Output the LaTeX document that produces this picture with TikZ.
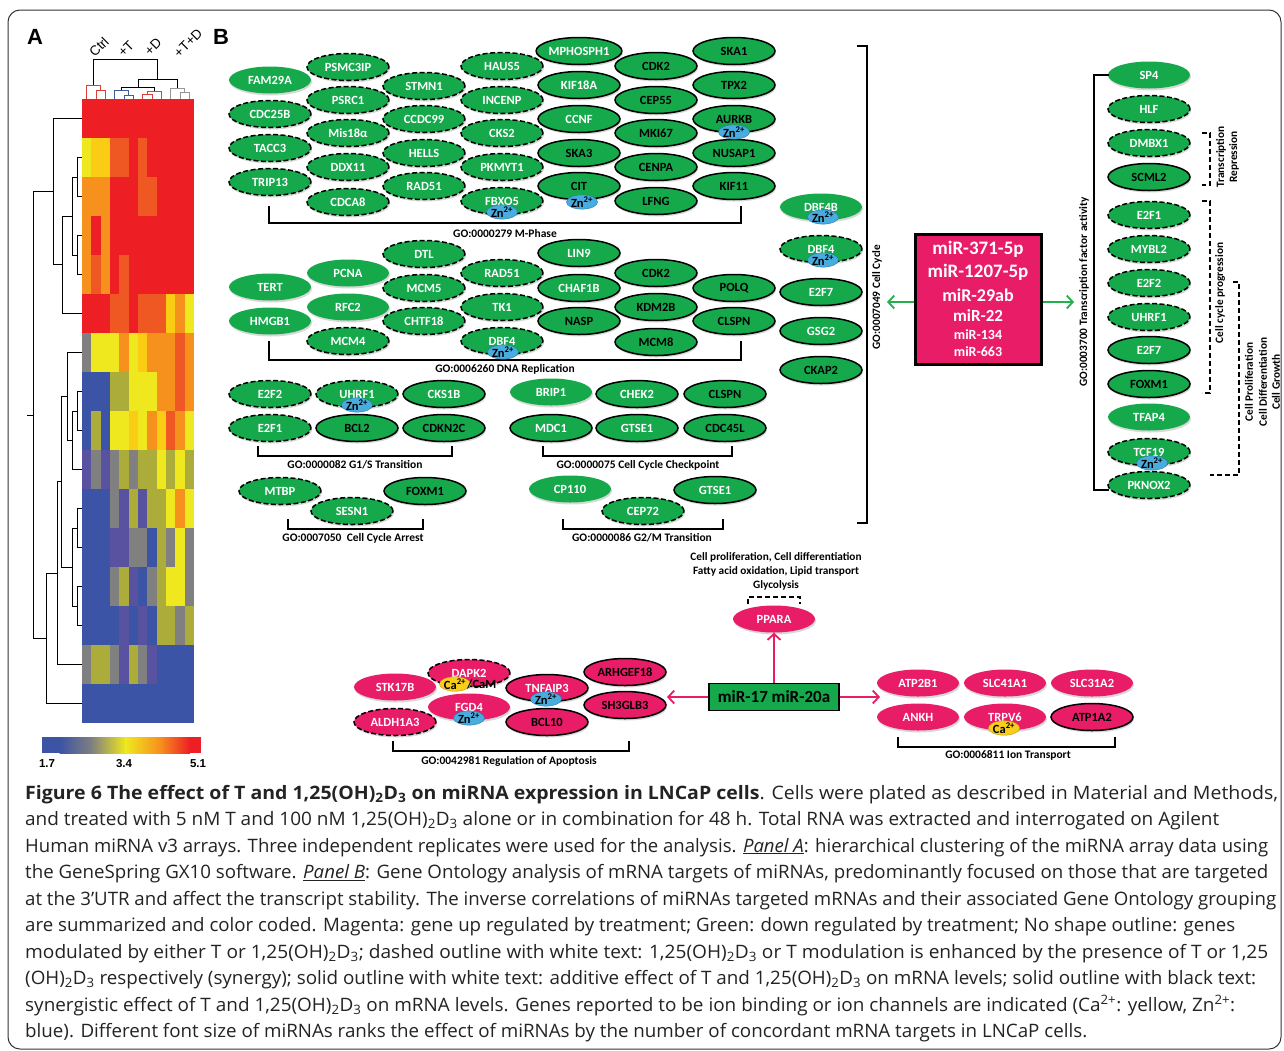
\documentclass[tikz,border=0pt]{standalone}
\usepackage{fontspec}
\setmainfont{Carlito}
\newfontfamily\capf{Open Sans}
\newfontfamily\arialf{Liberation Sans}
\usetikzlibrary{shapes.geometric,arrows.meta,shadows}
\definecolor{ggreen}{RGB}{21,169,76}
\definecolor{gmag}{RGB}{233,28,104}
\definecolor{arrgreen}{RGB}{34,177,76}
\definecolor{znblue}{RGB}{72,172,222}
\definecolor{znedge}{RGB}{40,120,170}
\definecolor{cayel}{RGB}{248,205,30}
\definecolor{caedge}{RGB}{190,150,10}
\definecolor{hmB}{RGB}{59,84,165}
\definecolor{hmS}{RGB}{88,82,160}
\definecolor{hmG}{RGB}{128,128,128}
\definecolor{hmL}{RGB}{172,172,58}
\definecolor{hmY}{RGB}{240,232,30}
\definecolor{hmD}{RGB}{250,205,20}
\definecolor{hmO}{RGB}{246,145,30}
\definecolor{hmP}{RGB}{240,88,35}
\definecolor{hmR}{RGB}{237,30,36}
\definecolor{dred}{RGB}{225,60,55}
\definecolor{dblue}{RGB}{60,90,160}
\definecolor{dgray}{RGB}{150,150,150}
\definecolor{captext}{RGB}{35,35,35}
\newcommand\genefont{\bfseries\fontsize{12.5}{13}\selectfont}
\newcommand\golab{\bfseries\fontsize{11.5}{12}\selectfont}
\newcommand\capfont{\capf\fontsize{18.5}{20}\selectfont}
\newcommand\capline[2]{\resizebox{#1pt}{\height}{#2}}
\begin{document}
\begin{tikzpicture}[x=1pt,y=-1pt,
  gene/.style={ellipse, minimum width=82pt, minimum height=27pt, inner sep=0pt,
    font=\genefont, text=white,
    drop shadow={opacity=0.3, shadow xshift=1pt, shadow yshift=-2pt}},
  G/.style={gene, fill=ggreen},
  M/.style={gene, fill=gmag},
  dsh/.style={draw=black, line width=1.5pt, dash pattern=on 5pt off 2.5pt},
  sld/.style={draw=black, line width=1.5pt},
  bt/.style={text=black},
  zn/.style={ellipse, fill=znblue, draw=znedge, line width=0.4pt, minimum width=26pt,
    minimum height=13pt, inner sep=0pt, text=black, font=\bfseries\fontsize{12.5}{12}\selectfont},
  ca/.style={zn, fill=cayel, draw=caedge},
  brk/.style={draw=black, line width=1.5pt},
  dbrk/.style={draw=black, line width=1.5pt, dash pattern=on 5pt off 3pt},
  golabel/.style={font=\golab, text=black, inner sep=0pt},
  rotlab/.style={font=\bfseries\fontsize{11.3}{12}\selectfont, rotate=90, inner sep=0pt},
  arrG/.style={draw=arrgreen, line width=1.8pt, -{Straight Barb[length=6pt,width=13pt]}},
  arrM/.style={draw=gmag, line width=1.8pt, -{Straight Barb[length=6pt,width=13pt]}},
  caption/.style={anchor=base west, font=\capfont, text=captext, inner sep=0pt},
  dend/.style={draw=black, line width=0.8pt},
  collab/.style={font=\arialf\fontsize{13.5}{14}\selectfont, rotate=45, inner sep=0pt}
]
\useasboundingbox (0,0) rectangle (1284,1050);
\fill[white] (0,0) rectangle (1284,1050);
\draw[line width=1pt, rounded corners=12pt, draw=black!80] (8,10) rectangle (1281,1049);

% ---------------- Panel A ----------------
\node[font=\arialf\bfseries\fontsize{22}{22}\selectfont, inner sep=0pt] (labA) at (35,37) {A};
\node[font=\arialf\bfseries\fontsize{22}{22}\selectfont, inner sep=0pt] (labB) at (221,37) {B};

\foreach \rowc [count=\ri] in {
 {R,R,R,R,R,R,R,R,R,R,R,R},
 {Y,D,D,P,P,R,P,R,R,R,R,R},
 {O,O,O,R,R,R,P,P,R,R,R,R},
 {O,R,O,R,R,R,R,R,R,R,R,R},
 {O,P,O,R,P,R,R,R,R,R,R,R},
 {R,R,R,P,P,R,P,P,P,D,O,Y},
 {G,Y,Y,Y,O,Y,D,O,O,O,P,O},
 {B,B,B,L,L,Y,Y,Y,O,O,P,O},
 {B,L,B,Y,Y,D,Y,O,D,P,O,Y},
 {S,G,S,G,L,G,L,L,Y,L,Y,L},
 {B,B,B,G,S,L,S,L,L,Y,O,Y},
 {B,B,B,S,S,G,G,B,L,G,Y,G},
 {B,B,B,G,L,S,B,G,L,Y,Y,G},
 {B,B,B,B,S,B,S,B,L,L,G,L},
 {G,L,L,G,S,L,G,S,B,B,B,B},
 {B,B,B,B,B,B,B,B,B,B,B,B}}{
  \foreach \cc [count=\ci] in \rowc {
    \fill[fill=hm\cc] ({82+(\ci-1)*9.333},{99+(\ri-1)*39}) rectangle ++(9.45,39.2);
  }
}

% column dendrogram
\draw[draw=dred, line width=0.8pt] (96,99) -- (96,90) -- (105.3,90) -- (105.3,99);
\draw[draw=dred, line width=0.8pt] (86.7,99) -- (86.7,85) -- (100.7,85) -- (100.7,90);
\draw[draw=dblue, line width=0.8pt] (124,99) -- (124,95) -- (133.3,95) -- (133.3,99);
\draw[draw=dblue, line width=0.8pt] (114.7,99) -- (114.7,90) -- (128.7,90) -- (128.7,95);
\draw[draw=dred, line width=0.8pt] (142.7,99) -- (142.7,94) -- (152,94) -- (152,99);
\draw[draw=dred, line width=0.8pt] (147.3,94) -- (147.3,91) -- (161.3,91) -- (161.3,99);
\draw[draw=dgray, line width=0.8pt] (180,99) -- (180,92) -- (189.3,92) -- (189.3,99);
\draw[draw=dgray, line width=0.8pt] (170.7,99) -- (170.7,88) -- (184.7,88) -- (184.7,92);
\draw[dend] (121.7,90) -- (121.7,87) -- (154.3,87) -- (154.3,91);
\draw[dend] (138,87) -- (138,79) -- (177.7,79) -- (177.7,88);
\draw[dend] (93.7,85) -- (93.7,59) -- (157.8,59) -- (157.8,79);

\node[collab] (cCtrl) at (99,47) {Ctrl};
\node[collab] (cT) at (126,49) {+T};
\node[collab] (cD) at (153,47) {+D};
\node[collab] (cTD) at (188,43) {+T+D};

% row dendrogram
\draw[dend] (82,157.5) -- (77,157.5) -- (77,196.5) -- (82,196.5);
\draw[dend] (82,235.5) -- (77,235.5) -- (77,274.5) -- (82,274.5);
\draw[dend] (77,177) -- (72,177) -- (72,255) -- (77,255);
\draw[dend] (72,216) -- (62,216) -- (62,313.5) -- (82,313.5);
\draw[dend] (82,118.5) -- (53,118.5) -- (53,264.75) -- (62,264.75);
\draw[dend] (82,391.5) -- (77,391.5) -- (77,430.5) -- (82,430.5);
\draw[dend] (77,411) -- (72,411) -- (72,469.5) -- (82,469.5);
\draw[dend] (82,352.5) -- (67,352.5) -- (67,440.25) -- (72,440.25);
\draw[dend] (82,508.5) -- (77,508.5) -- (77,547.5) -- (82,547.5);
\draw[dend] (82,586.5) -- (77,586.5) -- (77,625.5) -- (82,625.5);
\draw[dend] (77,528) -- (72,528) -- (72,606) -- (77,606);
\draw[dend] (67,396.4) -- (61,396.4) -- (61,567) -- (72,567);
\draw[dend] (61,481.7) -- (57,481.7) -- (57,664.5) -- (82,664.5);
\draw[dend] (57,573.1) -- (46,573.1) -- (46,703.5) -- (82,703.5);
\draw[dend] (53,191.6) -- (33,191.6) -- (33,638.3) -- (46,638.3);
\draw[dend] (33,415) -- (27,415);

% colour bar
\fill[hmB] (42,737) rectangle (60,753);
\shade[left color=hmB, right color=hmG] (59.5,737) rectangle (92,753);
\shade[left color=hmG, right color=hmY] (91.5,737) rectangle (126,753);
\shade[left color=hmY, right color=hmO] (125.5,737) rectangle (160,753);
\shade[left color=hmO, right color=hmR] (159.5,737) rectangle (190,753);
\fill[hmR] (189.5,737) rectangle (201,753);
\node[font=\arialf\bfseries\fontsize{11.5}{11}\selectfont, inner sep=0pt] (cb1) at (47,764) {1.7};
\node[font=\arialf\bfseries\fontsize{11.5}{11}\selectfont, inner sep=0pt] (cb2) at (124,764) {3.4};
\node[font=\arialf\bfseries\fontsize{11.5}{11}\selectfont, inner sep=0pt] (cb3) at (198,764) {5.1};

% ---------------- M phase ----------------
\node[G] (fam29a) at (270,80) {FAM29A};
\node[G,dsh] (cdc25b) at (270,114) {CDC25B};
\node[G,dsh] (tacc3) at (270,148) {TACC3};
\node[G,dsh] (trip13) at (270,182) {TRIP13};
\node[G,dsh] (psmc3ip) at (348,67) {PSMC3IP};
\node[G,dsh] (psrc1) at (348,100) {PSRC1};
\node[G,dsh] (mis18a) at (348,133) {Mis18α};
\node[G,dsh] (ddx11) at (348,167) {DDX11};
\node[G,dsh] (cdca8) at (348,202) {CDCA8};
\node[G,dsh] (stmn1) at (424,86) {STMN1};
\node[G,dsh] (ccdc99) at (424,119) {CCDC99};
\node[G,dsh] (hells) at (424,153) {HELLS};
\node[G,dsh] (rad51a) at (424,186) {RAD51};
\node[G,dsh] (haus5) at (502,66) {HAUS5};
\node[G,dsh] (incenp) at (502,100) {INCENP};
\node[G,dsh] (cks2) at (502,133) {CKS2};
\node[G,dsh] (pkmyt1) at (502,167) {PKMYT1};
\node[G,dsh] (fbxo5) at (502,201) {FBXO5};
\node[G,sld] (mphosph1) at (579,51) {MPHOSPH1};
\node[G,sld] (kif18a) at (579,85) {KIF18A};
\node[G,sld] (ccnf) at (579,119) {CCNF};
\node[G,sld,bt] (ska3) at (579,153) {SKA3};
\node[G,sld,bt] (cit) at (579,186) {CIT};
\node[G,sld,bt] (cdk2a) at (656,66) {CDK2};
\node[G,sld,bt] (cep55) at (656,100) {CEP55};
\node[G,sld,bt] (mki67) at (656,133) {MKI67};
\node[G,sld,bt] (cenpa) at (656,167) {CENPA};
\node[G,sld,bt] (lfng) at (656,201) {LFNG};
\node[G,sld,bt] (ska1) at (734,51) {SKA1};
\node[G,sld,bt] (tpx2) at (734,85) {TPX2};
\node[G,sld,bt] (aurkb) at (734,119) {AURKB};
\node[G,sld,bt] (nusap1) at (734,153) {NUSAP1};
\node[G,sld,bt] (kif11) at (734,186) {KIF11};
\draw[brk] (269,206) -- (269,223) -- (741,223) -- (741,206);
\node[golabel] (goM) at (505,234) {GO:0000279 M-Phase};

% ---------------- DNA replication ----------------
\node[G] (tert) at (270,287) {TERT};
\node[G] (hmgb1) at (270,321) {HMGB1};
\node[G] (pcna) at (348,273) {PCNA};
\node[G] (rfc2) at (348,307) {RFC2};
\node[G,dsh] (mcm4) at (348,341) {MCM4};
\node[G,dsh] (dtl) at (424,254) {DTL};
\node[G,dsh] (mcm5) at (424,288) {MCM5};
\node[G,dsh] (chtf18) at (424,321) {CHTF18};
\node[G,dsh] (rad51b) at (502,273) {RAD51};
\node[G,dsh] (tk1) at (502,307) {TK1};
\node[G,dsh] (dbf4a) at (502,341) {DBF4};
\node[G,sld] (lin9) at (579,253) {LIN9};
\node[G,sld] (chaf1b) at (579,288) {CHAF1B};
\node[G,sld,bt] (nasp) at (579,321) {NASP};
\node[G,sld,bt] (cdk2b) at (656,273) {CDK2};
\node[G,sld,bt] (kdm2b) at (656,307) {KDM2B};
\node[G,sld,bt] (mcm8) at (656,342) {MCM8};
\node[G,sld,bt] (polq) at (734,288) {POLQ};
\node[G,sld,bt] (clspna) at (734,321) {CLSPN};
\draw[brk] (269,341) -- (269,360) -- (741,360) -- (741,341);
\node[golabel] (goD) at (505,369) {GO:0006260 DNA Replication};

% ---------------- extra cell-cycle column ----------------
\node[G] (dbf4b) at (821,207) {DBF4B};
\node[G,dsh] (dbf4c) at (821,249) {DBF4};
\node[G,sld] (e2f7a) at (821,292) {E2F7};
\node[G,sld] (gsg2) at (821,331) {GSG2};
\node[G,sld,bt] (ckap2) at (821,370) {CKAP2};

% ---------------- G1/S ----------------
\node[G,dsh] (e2f2a) at (270,394) {E2F2};
\node[G,dsh] (uhrf1a) at (357,394) {UHRF1};
\node[G,sld] (cks1b) at (444,394) {CKS1B};
\node[G,dsh] (e2f1a) at (270,428) {E2F1};
\node[G,sld,bt] (bcl2) at (357,428) {BCL2};
\node[G,sld,bt] (cdkn2c) at (444,428) {CDKN2C};
\draw[brk] (258,446) -- (258,456) -- (452,456) -- (452,446);
\node[golabel] (goG1) at (355,465) {GO:0000082 G1/S Transition};

\node[G,dsh] (mtbp) at (280,491) {MTBP};
\node[G,sld,bt] (foxm1a) at (425,491) {FOXM1};
\node[G,dsh] (sesn1) at (352,511) {SESN1};
\draw[brk] (288,519) -- (288,529) -- (423,529) -- (423,519);
\node[golabel] (goArr) at (353,538) {GO:0007050\ \ Cell Cycle Arrest};

% ---------------- checkpoint ----------------
\node[G] (brip1) at (551,392) {BRIP1};
\node[G,sld] (chek2) at (637,394) {CHEK2};
\node[G,sld,bt] (clspnb) at (725,394) {CLSPN};
\node[G,sld] (mdc1) at (551,428) {MDC1};
\node[G,sld] (gtse1a) at (637,428) {GTSE1};
\node[G,sld,bt] (cdc45l) at (725,428) {CDC45L};
\draw[brk] (543,446) -- (543,456) -- (732,456) -- (732,446);
\node[golabel] (goChk) at (638,465) {GO:0000075 Cell Cycle Checkpoint};

\node[G] (cp110) at (570,489) {CP110};
\node[G,sld] (gtse1b) at (715,490) {GTSE1};
\node[G,dsh] (cep72) at (643,511) {CEP72};
\draw[brk] (563,519) -- (563,529) -- (723,529) -- (723,519);
\node[golabel] (goG2) at (642,538) {GO:0000086 G2/M Transition};

% big cell cycle bracket
\draw[brk] (857,46) -- (867,46) -- (867,523) -- (857,523);
\node[rotlab] (goCC) at (877,297) {GO:0007049 Cell Cycle};

% ---------------- miRNA box ----------------
\node[draw=black, line width=2.5pt, fill=gmag, minimum width=126pt, minimum height=130pt, inner sep=0pt] (mirbox) at (978.5,299.5) {};
\node[text=white, font=\bfseries\fontsize{19}{19}\selectfont, inner sep=0pt] (m1) at (978,249) {miR-371-5p};
\node[text=white, font=\bfseries\fontsize{19}{19}\selectfont, inner sep=0pt] (m2) at (978,272) {miR-1207-5p};
\node[text=white, font=\bfseries\fontsize{18}{18}\selectfont, inner sep=0pt] (m3) at (978,295) {miR-29ab};
\node[text=white, font=\bfseries\fontsize{17}{17}\selectfont, inner sep=0pt] (m4) at (978,316) {miR-22};
\node[text=white, font=\bfseries\fontsize{14}{14}\selectfont, inner sep=0pt] (m5) at (978,335) {miR-134};
\node[text=white, font=\bfseries\fontsize{14}{14}\selectfont, inner sep=0pt] (m6) at (978,352) {miR-663};
\coordinate (ccend) at (887,302);
\coordinate (tfend) at (1074,302);
\draw[arrG] (mirbox.west |- ccend) -- (ccend);
\draw[arrG] (mirbox.east |- tfend) -- (tfend);

% ---------------- TF column ----------------
\node[G] (sp4) at (1149,75) {SP4};
\node[G,dsh] (hlf) at (1149,109) {HLF};
\node[G,dsh] (dmbx1) at (1149,143) {DMBX1};
\node[G,sld,bt] (scml2) at (1149,177) {SCML2};
\node[G,dsh] (e2f1b) at (1149,215) {E2F1};
\node[G,dsh] (mybl2) at (1149,249) {MYBL2};
\node[G,dsh] (e2f2b) at (1149,283) {E2F2};
\node[G,dsh] (uhrf1b) at (1149,317) {UHRF1};
\node[G,sld] (e2f7b) at (1149,350) {E2F7};
\node[G,sld,bt] (foxm1b) at (1149,384) {FOXM1};
\node[G] (tfap4) at (1149,417) {TFAP4};
\node[G,dsh] (tcf19) at (1149,452) {TCF19};
\node[G,dsh] (pknox2) at (1149,485) {PKNOX2};
\draw[brk] (1109,75) -- (1094,75) -- (1094,490) -- (1109,490);
\node[rotlab] (goTF) at (1084,292) {GO:0003700 Transcription factor activity};

\draw[dbrk] (1202,133) -- (1210,133) -- (1210,185) -- (1202,185);
\node[rotlab] (trT) at (1221,157) {Transcription};
\node[rotlab] (trR) at (1234,157) {Repression};
\draw[dbrk] (1202,201) -- (1210,201) -- (1210,393) -- (1202,393);
\node[rotlab] (ccp) at (1220,293) {Cell cycle progression};
\draw[dbrk] (1233,282) -- (1239,282) -- (1239,475) -- (1210,475);
\node[rotlab] (cpP) at (1249,382) {Cell Proliferation};
\node[rotlab] (cpD) at (1263,382) {Cell Differentiation};
\node[rotlab] (cpG) at (1276,382) {Cell Growth};

% ---------------- miR-17 section ----------------
\node[draw=black, line width=1.8pt, fill=ggreen, minimum width=130pt, minimum height=27pt, inner sep=0pt,
  font=\bfseries\fontsize{17}{17}\selectfont] (mir17) at (774,697) {miR-17 miR-20a};
\node[M] (ppara) at (774,619) {PPARA};
\draw[arrM] (mir17.north -| ppara) -- (ppara.south);
\coordinate (apend) at (667,697);
\coordinate (ionend) at (880,697);
\draw[arrM] (mir17.west) -- (apend);
\draw[arrM] (mir17.east) -- (ionend);
\draw[dbrk] (748,604) -- (748,597) -- (800,597) -- (800,604);
\node[golabel, font=\bfseries\fontsize{11.3}{12}\selectfont] (pp1) at (776,557) {Cell proliferation, Cell differentiation};
\node[golabel, font=\bfseries\fontsize{11.3}{12}\selectfont] (pp2) at (776,571) {Fatty acid oxidation, Lipid transport};
\node[golabel, font=\bfseries\fontsize{11.3}{12}\selectfont] (pp3) at (776,585) {Glycolysis};

% apoptosis
\node[M] (stk17b) at (395,687) {STK17B};
\node[M,dsh] (aldh1a3) at (395,722) {ALDH1A3};
\node[M,dsh] (dapk2) at (469,673) {DAPK2};
\node[M] (fgd4) at (469,707) {FGD4};
\node[M,sld,bt] (bcl10) at (547,722) {BCL10};
\node[M,sld] (tnfaip3) at (547,688) {TNFAIP3};
\node[M,sld,bt] (arhgef18) at (625,672) {ARHGEF18};
\node[M,sld,bt] (sh3glb3) at (625,705) {SH3GLB3};
\draw[brk] (393,741) -- (393,751) -- (629,751) -- (629,741);
\node[golabel] (goAp) at (509,761) {GO:0042981 Regulation of Apoptosis};

% ion transport
\node[M] (atp2b1) at (918,683) {ATP2B1};
\node[M] (slc41a1) at (1005,683) {SLC41A1};
\node[M] (slc31a2) at (1092,683) {SLC31A2};
\node[M] (ankh) at (918,717) {ANKH};
\node[M] (trpv6) at (1005,717) {TRPV6};
\node[M,sld,bt] (atp1a2) at (1092,717) {ATP1A2};
\draw[brk] (898,737) -- (898,747) -- (1115,747) -- (1115,737);
\node[golabel] (goIon) at (1008,755) {GO:0006811 Ion Transport};

% ---------------- ion badges ----------------
\node[zn] (znFbxo5) at (502,212) {Zn\textsuperscript{2+}};
\node[zn] (znCit) at (582,202) {Zn\textsuperscript{2+}};
\node[zn] (znAurkb) at (734,132) {Zn\textsuperscript{2+}};
\node[zn] (znDbf4a) at (503,352) {Zn\textsuperscript{2+}};
\node[zn] (znDbf4b) at (823,217) {Zn\textsuperscript{2+}};
\node[zn] (znDbf4c) at (823,260) {Zn\textsuperscript{2+}};
\node[zn] (znUhrf1) at (357,405) {Zn\textsuperscript{2+}};
\node[zn] (znTcf19) at (1152,463) {Zn\textsuperscript{2+}};
\node[zn] (znTnf) at (546,699) {Zn\textsuperscript{2+}};
\node[zn] (znFgd4) at (469,718) {Zn\textsuperscript{2+}};
\node[ca] (caDapk2) at (455,684) {Ca\textsuperscript{2+}};
\node[anchor=west, inner sep=0pt, font=\bfseries\fontsize{12.5}{12}\selectfont] (cam) at (467,684) {/CaM};
\node[ca] (caTrpv6) at (1004,728) {Ca\textsuperscript{2+}};

% ---------------- caption ----------------
\node[caption] (cap1) at (25,799) {\capline{1253}{\textbf{Figure 6 The effect of T and 1,25(OH)\textsubscript{2}D\textsubscript{3} on miRNA expression in LNCaP cells}. Cells were plated as described in Material and Methods,}};
\node[caption] (cap2) at (25,825.5) {\capline{1194}{and treated with 5 nM T and 100 nM 1,25(OH)\textsubscript{2}D\textsubscript{3} alone or in combination for 48 h. Total RNA was extracted and interrogated on Agilent}};
\node[caption] (cap3) at (25,852) {\capline{1243}{Human miRNA v3 arrays. Three independent replicates were used for the analysis. \underline{\textit{Panel A}}: hierarchical clustering of the miRNA array data using}};
\node[caption] (cap4) at (25,878.5) {\capline{1243}{the GeneSpring GX10 software. \underline{\textit{Panel B}}: Gene Ontology analysis of mRNA targets of miRNAs, predominantly focused on those that are targeted}};
\node[caption] (cap5) at (25,905) {\capline{1251}{at the 3’UTR and affect the transcript stability. The inverse correlations of miRNAs targeted mRNAs and their associated Gene Ontology grouping}};
\node[caption] (cap6) at (25,931.5) {\capline{1210}{are summarized and color coded. Magenta: gene up regulated by treatment; Green: down regulated by treatment; No shape outline: genes}};
\node[caption] (cap7) at (25,958) {\capline{1243}{modulated by either T or 1,25(OH)\textsubscript{2}D\textsubscript{3}; dashed outline with white text: 1,25(OH)\textsubscript{2}D\textsubscript{3} or T modulation is enhanced by the presence of T or 1,25}};
\node[caption] (cap8) at (25,984.5) {\capline{1231}{(OH)\textsubscript{2}D\textsubscript{3} respectively (synergy); solid outline with white text: additive effect of T and 1,25(OH)\textsubscript{2}D\textsubscript{3} on mRNA levels; solid outline with black text:}};
\node[caption] (cap9) at (25,1011) {\capline{1210}{synergistic effect of T and 1,25(OH)\textsubscript{2}D\textsubscript{3} on mRNA levels. Genes reported to be ion binding or ion channels are indicated (Ca\textsuperscript{2+}: yellow, Zn\textsuperscript{2+}:}};
\node[caption] (cap10) at (25,1037.5) {\capline{1062}{blue). Different font size of miRNAs ranks the effect of miRNAs by the number of concordant mRNA targets in LNCaP cells.}};
\end{tikzpicture}
\end{document}
